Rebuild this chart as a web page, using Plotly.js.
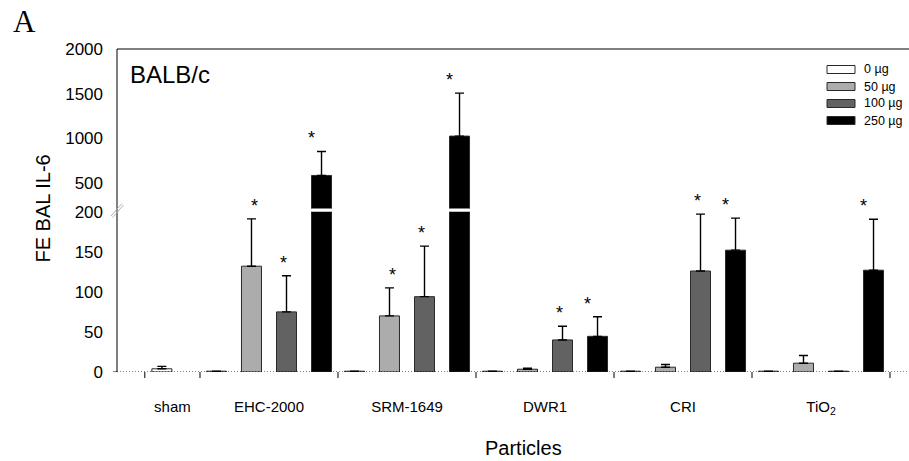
<!DOCTYPE html>
<html>
<head>
<meta charset="utf-8">
<script src="https://cdn.plot.ly/plotly-3.0.1.min.js"></script>
<style>html,body{margin:0;padding:0;background:#fff;}#chart{width:909px;height:461px;}</style>
</head>
<body>
<div id="chart"></div>
<script>
// ---- data ----
const groups = ['sham', 'EHC-2000', 'SRM-1649', 'DWR1', 'CRI', 'TiO<sub>2</sub>'];
const doses = ['0 µg', '50 µg', '100 µg', '250 µg'];
const colors = ['#ffffff', '#acacac', '#626262', '#000000'];

const val0 = [4, 1, 1, 1, 1, 1];
const err0 = [3, 0, 0, 0, 0, 0];
const val50 = [null, 132, 70, 3.5, 6, 11];
const err50 = [null, 59, 35, 1.2, 3.3, 9.6];
const val100 = [null, 75, 94, 40, 126, 1];
const err100 = [null, 45, 63, 17, 71, 0];
const val250 = [null, 585, 1025, 44.5, 152, 127];
const err250 = [null, 268, 481, 24.5, 40, 63.5];

const sig0 = [0, 0, 0, 0, 0, 0];
const sig50 = [0, 1, 1, 0, 0, 0];
const sig100 = [0, 1, 1, 1, 1, 0];
const sig250 = [0, 1, 1, 1, 1, 1];

const yTicksLow = [0, 50, 100, 150, 200];
const yTicksHigh = [500, 1000, 1500, 2000];

// ---- geometry helpers (layout only) ----
const L = 117, R = 909, T = 49, B = 372;
const px2x = p => (p - L) / (R - L);
const py2y = p => (B - p) / (B - T);

const shamHalf = 0.2;
const centers = groups.map((g, i) => i === 0 ? 0.5 - shamHalf : i);
const boundaries = [0.5 - 2 * shamHalf, 0.5, 1.5, 2.5, 3.5, 4.5, 5.5];
const step = 0.203, barW = 0.145;

const series = [
  {v: val0, e: err0, s: sig0},
  {v: val50, e: err50, s: sig50},
  {v: val100, e: err100, s: sig100},
  {v: val250, e: err250, s: sig250}
];

function xpos(j) {
  return centers.map((c, i) => {
    if (i === 0) return c; // sham has a single bar
    return c + (j - 1.5) * step;
  });
}

const font = 'Liberation Sans, Arial, sans-serif';
const traces = [];
const annotations = [];
series.forEach((s, j) => {
  const xs = xpos(j);
  ['y', 'y2'].forEach(ya => {
    traces.push({
      type: 'bar', x: xs, y: s.v, width: barW, yaxis: ya, xaxis: 'x',
      marker: {color: colors[j], line: {color: '#2a2a2a', width: 1}},
      error_y: {type: 'data', array: s.e, arrayminus: s.e.map(() => 0), symmetric: false,
                color: '#000', thickness: 1.4, width: 4.5, visible: true},
      showlegend: false, hoverinfo: 'skip', cliponaxis: true
    });
  });
  s.v.forEach((v, i) => {
    if (!s.s[i] || v == null) return;
    const top = v + s.e[i];
    annotations.push({
      text: '*', x: xs[i], y: top, xref: 'x', yref: top > 200 ? 'y2' : 'y',
      yanchor: 'bottom', xanchor: 'center', yshift: 1, showarrow: false,
      font: {size: 18, color: '#000', family: font}
    });
  });
});

// legend (custom)
const shapes = [];
doses.forEach((d, j) => {
  const cy = 69.5 + 17 * j;
  shapes.push({type: 'rect', xref: 'paper', yref: 'paper',
    x0: px2x(827), x1: px2x(855), y0: py2y(cy + 4), y1: py2y(cy - 4),
    fillcolor: colors[j], line: {color: '#2a2a2a', width: 1}});
  annotations.push({text: d, xref: 'paper', yref: 'paper', x: px2x(862), y: py2y(cy),
    xanchor: 'left', yanchor: 'middle', showarrow: false,
    font: {size: 12.5, color: '#000', family: font}});
});

// category boundary ticks
boundaries.forEach(b => {
  shapes.push({type: 'line', xref: 'x', yref: 'paper', x0: b, x1: b, y0: 0, y1: py2y(378),
    line: {color: '#000', width: 1}});
});

// frame lines
shapes.push({type: 'line', xref: 'paper', yref: 'paper', x0: 0, x1: 1, y0: 1, y1: 1, line: {color: '#000', width: 1}});
shapes.push({type: 'line', xref: 'paper', yref: 'paper', x0: 0, x1: 0, y0: 0, y1: 1, line: {color: '#000', width: 1}});
shapes.push({type: 'line', xref: 'paper', yref: 'y', x0: 0, x1: 1, y0: 0, y1: 0, line: {color: '#000', width: 1, dash: '1px,2px'}});
shapes.push({type: 'line', xref: 'paper', yref: 'y', x0: px2x(113), x1: 0, y0: 0, y1: 0, line: {color: '#000', width: 1}});
// break marks
shapes.push({type: 'line', xref: 'paper', yref: 'paper', x0: px2x(111), y0: py2y(216), x1: px2x(122), y1: py2y(203.5), line: {color: '#b5b5b5', width: 1}});
shapes.push({type: 'line', xref: 'paper', yref: 'paper', x0: px2x(112.5), y0: py2y(217.5), x1: px2x(123.5), y1: py2y(205), line: {color: '#b5b5b5', width: 1}});

annotations.push({text: 'BALB/c', xref: 'paper', yref: 'paper', x: px2x(128), y: py2y(74),
  xanchor: 'left', yanchor: 'middle', showarrow: false, font: {size: 24, color: '#000', family: font}});
annotations.push({text: 'A', xref: 'paper', yref: 'paper', x: px2x(11), y: py2y(21),
  xanchor: 'left', yanchor: 'middle', showarrow: false, font: {size: 31, color: '#000', family: 'Liberation Serif, Times New Roman, serif'}});
annotations.push({text: 'FE BAL IL-6', xref: 'paper', yref: 'paper', x: px2x(42.5), y: py2y(209),
  xanchor: 'center', yanchor: 'middle', textangle: -90, showarrow: false, font: {size: 20, color: '#000', family: font}});
annotations.push({text: 'Particles', xref: 'paper', yref: 'paper', x: px2x(523.5), y: py2y(448),
  xanchor: 'center', yanchor: 'middle', showarrow: false, font: {size: 20, color: '#000', family: font}});

const layout = {
  width: 909, height: 461,
  margin: {l: L, r: 909 - R, t: T, b: 461 - B, pad: 0},
  paper_bgcolor: '#fff', plot_bgcolor: '#fff',
  showlegend: false, bargap: 0,
  font: {family: font, color: '#000'},
  xaxis: {range: [-0.1014, 5.6377], tickvals: centers, ticktext: groups,
    showgrid: false, zeroline: false, showline: false, ticks: '', ticklabelstandoff: 24,
    tickfont: {size: 15, family: font}, anchor: 'y', fixedrange: true},
  yaxis: {domain: [0, py2y(211.7)], range: [0, 200], tickvals: yTicksLow,
    showgrid: false, zeroline: false, showline: false, ticks: '', ticklabelstandoff: 13,
    tickfont: {size: 17, family: font}},
  yaxis2: {domain: [py2y(208.5), 1], range: [215, 2000], tickvals: yTicksHigh,
    showgrid: false, zeroline: false, showline: false, ticks: '', ticklabelstandoff: 13,
    tickfont: {size: 17, family: font}, anchor: 'x'},
  shapes: shapes,
  annotations: annotations
};

Plotly.newPlot('chart', traces, layout, {displayModeBar: false, staticPlot: true});
</script>
</body>
</html>
